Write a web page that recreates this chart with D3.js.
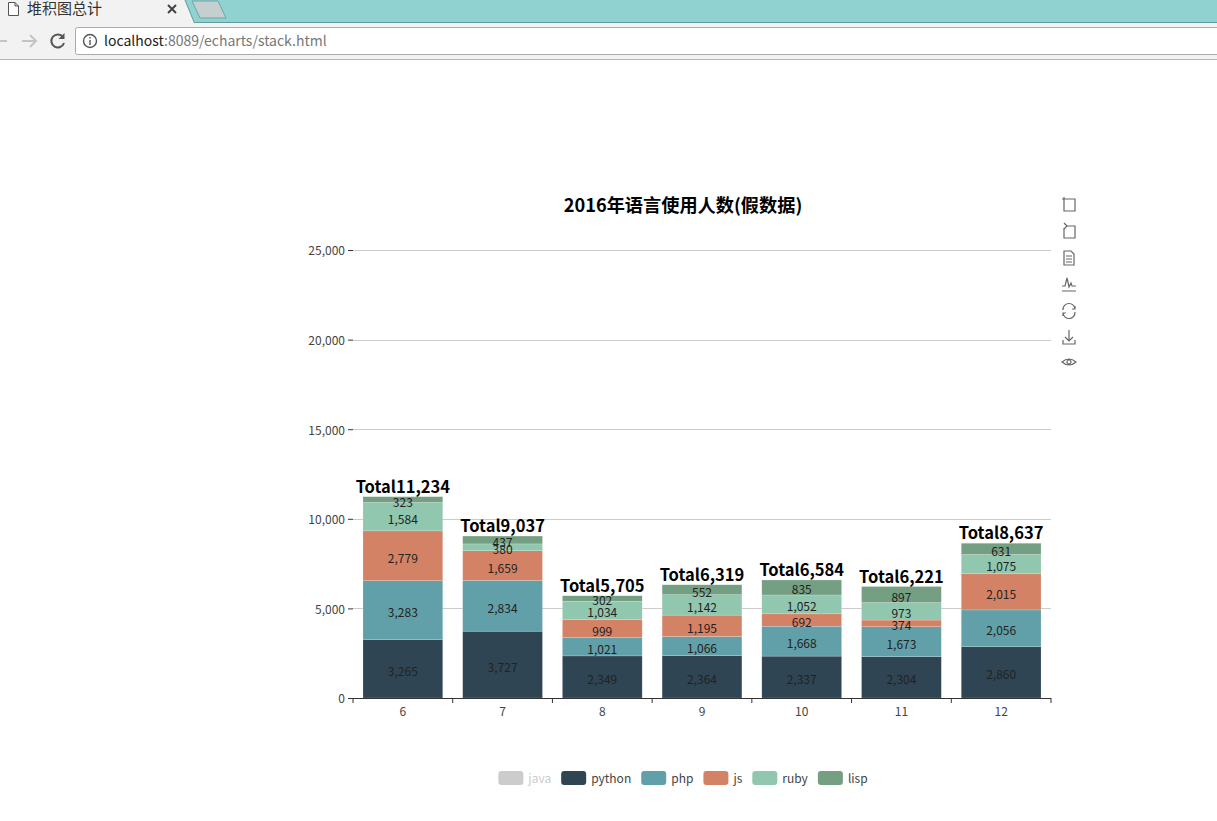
<!DOCTYPE html>
<html lang="zh">
<head>
<meta charset="UTF-8">
<title>堆积图总计</title>
<script src="https://d3js.org/d3.v7.min.js"></script>
<style>
html, body { margin: 0; padding: 0; background: #fff; overflow: hidden; }
svg { display: block; }
text { font-family: "Noto Sans CJK SC", "Noto Sans", sans-serif; }
</style>
</head>
<body>
<div id="chart"></div>
<script>
const months = ["6", "7", "8", "9", "10", "11", "12"];
const seriesNames = ["python", "php", "js", "ruby", "lisp"];
const legendNames = ["java", "python", "php", "js", "ruby", "lisp"];
const python = [3265, 3727, 2349, 2364, 2337, 2304, 2860];
const php = [3283, 2834, 1021, 1066, 1668, 1673, 2056];
const js = [2779, 1659, 999, 1195, 692, 374, 2015];
const ruby = [1584, 380, 1034, 1142, 1052, 973, 1075];
const lisp = [323, 437, 302, 552, 835, 897, 631];
const yTicks = [0, 5000, 10000, 15000, 20000, 25000];
const colors = { java: "#ccc", python: "#2f4554", php: "#61a0a8", js: "#d48265", ruby: "#91c7ae", lisp: "#749f83" };

const rows = months.map((m, i) => ({ month: m, python: python[i], php: php[i], js: js[i], ruby: ruby[i], lisp: lisp[i] }));
const fmt = d3.format(",");

const svg = d3.select("#chart").append("svg").attr("width", 1217).attr("height", 821);

// browser window around the page
const chrome = svg.append("g");
chrome.append("rect").attr("width", 1217).attr("height", 23).attr("fill", "#8fd2cf");
chrome.append("path").attr("d", "M0,0H185L194,22V23H0Z").attr("fill", "#f2f2f2");
chrome.append("path").attr("d", "M185,0L194,22").attr("stroke", "#5f9c9a").attr("fill", "none");
chrome.append("path").attr("d", "M192,1H218L226,18H200Z").attr("fill", "#c5cfd0").attr("stroke", "#6fa5a5");
chrome.append("rect").attr("y", 22).attr("x", 194).attr("width", 1023).attr("height", 1).attr("fill", "#5f9c9a");
chrome.append("rect").attr("y", 23).attr("width", 1217).attr("height", 36).attr("fill", "#f2f2f2");
chrome.append("rect").attr("y", 59).attr("width", 1217).attr("height", 1).attr("fill", "#b5b5b5");
chrome.append("rect").attr("x", 75.5).attr("y", 27.5).attr("width", 1150).attr("height", 27).attr("rx", 2)
  .attr("fill", "#fff").attr("stroke", "#aaa");
chrome.append("path").attr("d", "M8.5,2.5H15L18.5,6V15.5H8.5ZM15,2.5V6H18.5").attr("fill", "#fff").attr("stroke", "#555");
chrome.append("text").attr("x", 27).attr("y", 14).attr("font-size", 15).attr("fill", "#333").text("堆积图总计");
chrome.append("path").attr("d", "M168,5L176,13M176,5L168,13").attr("stroke", "#444").attr("stroke-width", 2);
chrome.append("path").attr("d", "M-6,41H7M-1,35L-7,41L-1,47").attr("fill", "none").attr("stroke", "#c4c4c4").attr("stroke-width", 2);
chrome.append("path").attr("d", "M22,41H36M30,35L36,41L30,47").attr("fill", "none").attr("stroke", "#c4c4c4").attr("stroke-width", 2);
chrome.append("path").attr("d", "M63,37A6.5,6.5 0 1 0 64,43").attr("fill", "none").attr("stroke", "#555").attr("stroke-width", 2);
chrome.append("path").attr("d", "M64.5,33V39H58.5Z").attr("fill", "#555");
chrome.append("circle").attr("cx", 90).attr("cy", 41).attr("r", 6.5).attr("fill", "none").attr("stroke", "#555").attr("stroke-width", 1.4);
chrome.append("path").attr("d", "M90,40V45M90,37V38.5").attr("stroke", "#555").attr("stroke-width", 1.4);
const url = chrome.append("text").attr("x", 104).attr("y", 46).attr("font-size", 14).attr("font-family", "Roboto, sans-serif");
url.append("tspan").attr("fill", "#222").text("localhost");
url.append("tspan").attr("fill", "#777").text(":8089/echarts/stack.html");

// chart
const x = d3.scaleBand().domain(months).range([353, 1051]).paddingInner(0.2).paddingOuter(0.1);
const y = d3.scaleLinear().domain([0, 25000]).range([698, 250]);
const stack = d3.stack().keys(seriesNames)(rows);

svg.append("text").attr("x", 683).attr("y", 212).attr("text-anchor", "middle")
  .attr("font-size", 18.2).attr("font-weight", "bold").attr("fill", "#000")
  .text("2016年语言使用人数(假数据)");

// grid lines
svg.append("g").selectAll("line").data(yTicks.slice(1)).enter().append("line")
  .attr("x1", 353).attr("x2", 1051)
  .attr("y1", d => Math.round(y(d)) + 0.5).attr("y2", d => Math.round(y(d)) + 0.5)
  .attr("stroke", "#ccc");

// bars
const layers = svg.append("g").selectAll("g").data(stack).enter().append("g")
  .attr("fill", d => colors[d.key]);
layers.selectAll("rect").data(d => d).enter().append("rect")
  .attr("x", d => x(d.data.month))
  .attr("width", x.bandwidth())
  .attr("y", d => y(d[1]))
  .attr("height", d => y(d[0]) - y(d[1]))
  .attr("stroke", "#fff").attr("stroke-opacity", 0.35).attr("stroke-width", 0.5);

// value labels inside the bars
layers.selectAll("text").data(d => d).enter().append("text")
  .attr("x", d => x(d.data.month) + x.bandwidth() / 2)
  .attr("y", d => (y(d[0]) + y(d[1])) / 2 + 7)
  .attr("text-anchor", "middle")
  .attr("font-size", 12).attr("fill", "#222")
  .text(d => fmt(d[1] - d[0]));

// totals on top
svg.append("g").selectAll("text").data(rows).enter().append("text")
  .attr("x", d => x(d.month) + x.bandwidth() / 2)
  .attr("y", d => y(d3.sum(seriesNames, k => d[k])) - 4)
  .attr("text-anchor", "middle")
  .attr("font-size", 16.5).attr("font-weight", "bold").attr("fill", "#000")
  .text(d => "Total" + fmt(d3.sum(seriesNames, k => d[k])));

// axes
const yAxis = svg.append("g").attr("transform", "translate(353,0)")
  .call(d3.axisLeft(y).tickValues(yTicks).tickFormat(fmt).tickSize(5).tickPadding(3));
const xAxis = svg.append("g").attr("transform", "translate(0,698)")
  .call(d3.axisBottom(x).tickSize(0).tickPadding(9));
xAxis.selectAll(".tick line").remove();
xAxis.selectAll(".bound").data(d3.range(months.length + 1)).enter().append("line")
  .attr("x1", i => 353 + i * 698 / months.length).attr("x2", i => 353 + i * 698 / months.length)
  .attr("y1", 0).attr("y2", 5).attr("stroke", "#333");
[yAxis, xAxis].forEach(a => {
  a.select(".domain").attr("stroke", "#333");
  a.selectAll(".tick line").attr("stroke", "#333");
  a.selectAll("text").attr("font-size", 12).attr("fill", "#444")
    .attr("font-family", '"Noto Sans CJK SC", sans-serif');
});
yAxis.select(".domain").remove();
yAxis.selectAll("text").attr("dy", "0.4em");
xAxis.select(".domain").attr("d", "M353,0.5H1051");

// legend, laid out from the measured label widths and centred under the chart
const legend = svg.append("g");
let lx = 0;
legendNames.forEach(name => {
  const item = legend.append("g").attr("transform", `translate(${lx},771)`);
  item.append("rect").attr("width", 25).attr("height", 14).attr("rx", 3).attr("fill", colors[name]);
  const t = item.append("text").attr("x", 30).attr("y", 12).attr("font-size", 12)
    .attr("fill", name === "java" ? "#ccc" : "#444").text(name);
  lx += 30 + t.node().getComputedTextLength() + 10;
});
legend.attr("transform", `translate(${683 - (lx - 10) / 2},0)`);

// toolbox icons
const toolIcons = [
  "M-5,-6V6H6V-6H-7M-5,-8V-6",
  "M-5,-4V6H6V-6H-2M-2,-6L-5,-9M-2,-6L-5,-3",
  "M-5,-7H2L5,-4V7H-5ZM-3,-2H3M-3,1H3M-3,4H3",
  "M-7,2H-4L-2,-6L0,3L2,-1L3,2H7M-7,7H7",
  "M-6,-1A6,6 0 0 1 6,-2M6,1A6,6 0 0 1 -6,2M6,-5V-2H3M-6,5V2H-3",
  "M0,-8V3M-4,-1L0,3L4,-1M-6,2V6H6V2",
  "M-7,0Q0,-6 7,0Q0,6 -7,0ZM-2,0A2,2 0 1 0 2,0A2,2 0 1 0 -2,0"
];
const toolY = [205, 232, 258, 284, 311, 338, 362];
svg.append("g").selectAll("path").data(toolIcons).enter().append("path")
  .attr("transform", (d, i) => `translate(1069,${toolY[i]})`)
  .attr("d", d => d)
  .attr("fill", "none").attr("stroke", "#666").attr("stroke-width", 1.2);
</script>
</body>
</html>
